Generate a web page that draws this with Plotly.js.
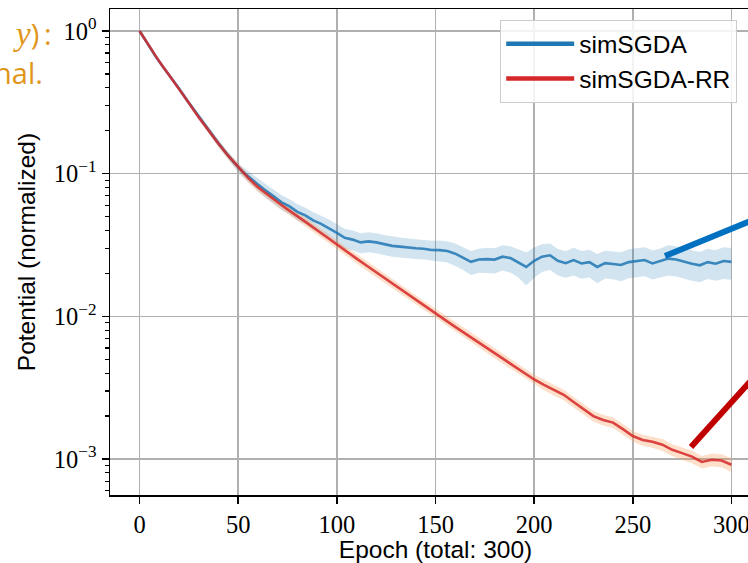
<!DOCTYPE html>
<html>
<head>
<meta charset="utf-8">
<script src="https://cdn.plot.ly/plotly-3.0.1.min.js"></script>
<style>
html, body { margin:0; padding:0; overflow:hidden; background:#fff; }
#chart { width:771px; height:563px; }
</style>
</head>
<body>
<div id="chart"></div>
<script>
// ---- data ----
const epochsRed = [0,5,10,15,20,25,30,35,40,45,50,55,60,65,70,75,80,85,90,95,
  100,105,110,115,120,125,130,135,140,145,150,155,160,165,170,175,180,185,190,195,
  200,205,210,215,220,225,230,235,240,245,250,255,260,265,270,275,280,285,290,295,300];
const redPotential = [1.0,0.776,0.610,0.490,0.394,0.313,0.248,0.200,0.162,0.133,
  0.111,0.0933,0.0804,0.0708,0.0631,0.0562,0.0505,0.0450,0.0401,0.0357,
  0.0316,0.0283,0.0254,0.0227,0.0203,0.0182,0.0163,0.0146,0.0131,0.0117,
  0.0105,0.00940,0.00843,0.00759,0.00682,0.00614,0.00552,0.00497,0.00447,0.00402,
  0.00361,0.00331,0.00305,0.00282,0.00251,0.00224,0.00200,0.00188,0.00180,0.00162,
  0.00145,0.00136,0.00132,0.00126,0.00116,0.00110,0.00104,0.000955,0.000989,0.000977,0.000912];
const redRelStd = [0,0.01,0.015,0.02,0.03,0.035,0.04,0.05,0.055,0.06,
  0.065,0.07,0.07,0.07,0.07,0.07,0.07,0.07,0.07,0.07,
  0.07,0.075,0.075,0.075,0.075,0.075,0.075,0.075,0.075,0.075,
  0.075,0.08,0.08,0.08,0.08,0.08,0.08,0.08,0.08,0.08,
  0.08,0.085,0.085,0.085,0.085,0.085,0.085,0.085,0.085,0.085,
  0.085,0.09,0.09,0.095,0.095,0.1,0.1,0.1,0.105,0.105,0.11];

const epochsBlue = [0,4,8,12,16,20,24,28,32,36,40,44,48,52,56,60,64,68,72,76,
  80,84,88,92,96,100,104,108,112,116,120,124,128,132,136,140,144,148,152,156,
  160,164,168,172,176,180,184,188,192,196,200,204,208,212,216,220,224,228,232,236,
  240,244,248,252,256,260,264,268,272,276,280,284,288,292,296,300];
const bluePotential = [1.0,0.815,0.668,0.556,0.471,0.395,0.327,0.274,0.230,0.193,
  0.163,0.139,0.119,0.104,0.093,0.084,0.076,0.069,0.063,0.059,
  0.054,0.051,0.047,0.0445,0.0415,0.0385,0.0355,0.0345,0.0330,0.0335,
  0.0330,0.0320,0.0312,0.0308,0.0303,0.0300,0.0298,0.0292,0.0291,0.0287,
  0.0275,0.0258,0.0241,0.0250,0.0252,0.0250,0.0262,0.0256,0.0240,0.0222,
  0.0245,0.0262,0.0268,0.0245,0.0236,0.0248,0.0235,0.0240,0.0222,0.0236,
  0.0233,0.0229,0.0240,0.0245,0.0248,0.0235,0.0243,0.0254,0.0250,0.0241,
  0.0234,0.0228,0.0240,0.0234,0.0244,0.0241];
const blueRelStd = [0,0.01,0.015,0.02,0.025,0.03,0.035,0.04,0.045,0.05,
  0.055,0.06,0.07,0.08,0.09,0.10,0.11,0.11,0.12,0.12,
  0.13,0.13,0.14,0.14,0.15,0.15,0.16,0.16,0.16,0.16,
  0.16,0.16,0.16,0.16,0.16,0.16,0.16,0.16,0.17,0.17,
  0.18,0.18,0.19,0.19,0.20,0.20,0.20,0.21,0.22,0.26,
  0.24,0.22,0.21,0.21,0.21,0.22,0.22,0.22,0.23,0.22,
  0.22,0.23,0.23,0.23,0.23,0.23,0.23,0.24,0.24,0.24,
  0.24,0.24,0.24,0.24,0.25,0.25];

const seriesNames = ['simSGDA', 'simSGDA-RR'];
const xTickVals = [0,50,100,150,200,250,300];
const yTickVals = [1, 0.1, 0.01, 0.001];
const yTickText = ['10<sup>0</sup>', '10<sup>\u22121</sup>', '10<sup>\u22122</sup>', '10<sup>\u22123</sup>'];

// ---- derived ----
const blueUp = bluePotential.map((v,i) => v*(1+blueRelStd[i]));
const blueLo = bluePotential.map((v,i) => v*(1-blueRelStd[i]));
const redUp = redPotential.map((v,i) => v*(1+redRelStd[i]));
const redLo = redPotential.map((v,i) => v*(1-redRelStd[i]));
const minorVals = [];
[0.0001,0.001,0.01,0.1,1].forEach(d => { for (let m=2;m<=9;m++) minorVals.push(d*m); });

const BLUE = '#1f77b4', RED = '#d62728';

const traces = [
  {x:epochsBlue, y:blueUp, mode:'lines', line:{width:0, color:BLUE}, showlegend:false, hoverinfo:'skip'},
  {x:epochsBlue, y:blueLo, mode:'lines', line:{width:0, color:BLUE}, fill:'tonexty', fillcolor:'rgba(31,119,180,0.2)', showlegend:false, hoverinfo:'skip'},
  {x:epochsRed, y:redUp, mode:'lines', line:{width:0, color:RED}, showlegend:false, hoverinfo:'skip'},
  {x:epochsRed, y:redLo, mode:'lines', line:{width:0, color:RED}, fill:'tonexty', fillcolor:'rgba(250,150,80,0.3)', showlegend:false, hoverinfo:'skip'},
  {x:epochsBlue, y:bluePotential, mode:'lines', line:{width:2.6, color:'rgba(31,119,180,0.85)'}, showlegend:false},
  {x:epochsRed, y:redPotential, mode:'lines', line:{width:2.6, color:'rgba(214,39,40,0.85)'}, showlegend:false},
  {x:[null], y:[null], mode:'lines', name:seriesNames[0], line:{width:4.5, color:BLUE}},
  {x:[null], y:[null], mode:'lines', name:seriesNames[1], line:{width:4.5, color:RED}}
];

const PL = 110, PW = 651, PT = 9, PH = 486;
const px = v => (v - PL) / PW;
const py = v => (PT + PH - v) / PH;

const layout = {
  width: 771, height: 563,
  margin: {l:PL, r:10, t:PT, b:68},
  paper_bgcolor:'#fff', plot_bgcolor:'#fff',
  showlegend: true,
  xaxis: {
    range:[-15, 315], tickmode:'array', tickvals:xTickVals,
    ticks:'outside', ticklen:7, tickwidth:1.5, tickcolor:'#000',
    showline:true, linecolor:'#000', linewidth:1.5, mirror:true,
    showgrid:true, gridcolor:'#b0b0b0', gridwidth:1.5, zeroline:false,
    tickfont:{family:'Liberation Serif', size:24.5, color:'#000'},
    title:{text:'Epoch (total: 300)', font:{family:'Liberation Sans', size:24.5, color:'#000'}, standoff:4}
  },
  yaxis: {
    type:'log', range:[-3.252, 0.154], tickmode:'array', tickvals:yTickVals, ticktext:yTickText,
    ticks:'outside', ticklen:7, tickwidth:1.5, tickcolor:'#000',
    showline:true, linecolor:'#000', linewidth:1.5, mirror:true,
    showgrid:true, gridcolor:'#b0b0b0', gridwidth:1.5, zeroline:false,
    tickfont:{family:'Liberation Serif', size:24.5, color:'#000'},
    minor:{tickmode:'array', tickvals:minorVals, ticks:'outside', ticklen:4, tickwidth:1.2, tickcolor:'#000', showgrid:false},
    title:{text:'Potential (normalized)', font:{family:'Liberation Sans', size:24.5, color:'#000'}, standoff:11}
  },
  legend: {
    x:px(500), y:py(20), xanchor:'left', yanchor:'top', traceorder:'normal',
    bgcolor:'rgba(255,255,255,0.85)', bordercolor:'#cccccc', borderwidth:1.2,
    font:{family:'Liberation Sans', size:24.5, color:'#000'},
    itemwidth:68
  },
  annotations: [
    {xref:'paper', yref:'paper', x:px(54), y:py(33), xanchor:'right', yanchor:'middle', showarrow:false,
     text:'<span style="font-family:Liberation Serif;font-size:33px"><i>y</i></span>)\u2009:', font:{family:'Open Sans', size:29, color:'#e0961a'}},
    {xref:'paper', yref:'paper', x:px(45), y:py(72), xanchor:'right', yanchor:'middle', showarrow:false,
     text:'nal.', font:{family:'Open Sans', size:29, color:'#e0961a'}}
  ],
  shapes: [
    {type:'line', xref:'paper', yref:'paper', x0:px(665), y0:py(256), x1:px(775), y1:py(211), line:{color:'#0070c0', width:6}},
    {type:'line', xref:'paper', yref:'paper', x0:px(691), y0:py(447), x1:px(775), y1:py(354), line:{color:'#c00000', width:6}}
  ]
};

Plotly.newPlot('chart', traces, layout, {staticPlot:true, displayModeBar:false});
</script>
</body>
</html>
